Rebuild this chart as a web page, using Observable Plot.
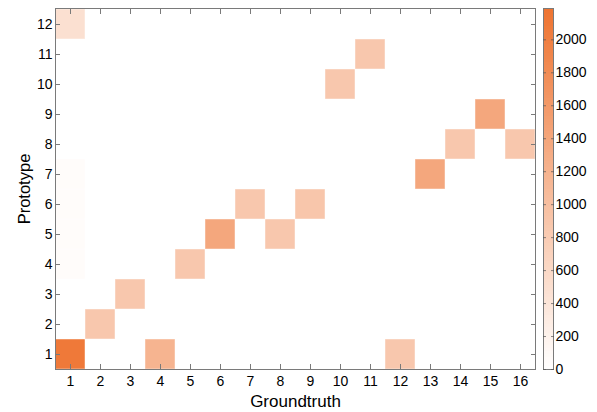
<!DOCTYPE html>
<html>
<head>
<meta charset="utf-8">
<script src="https://cdn.jsdelivr.net/npm/d3@7"></script>
<script src="https://cdn.jsdelivr.net/npm/@observablehq/plot@0.6"></script>
<style>
  body { margin: 0; background: #fff; }
  #wrap { position: relative; width: 597px; height: 412px; }
  #wrap svg { position: absolute; top: 0; overflow: visible; }
  svg [aria-label="x-axis label"] text { font-size: 17px; }
  svg [aria-label="y-axis label"] text { font-size: 16.5px; }
</style>
</head>
<body>
<div id="wrap"></div>
<script>
// Tick labels / categories
const groundtruthTicks = [1,2,3,4,5,6,7,8,9,10,11,12,13,14,15,16];
const prototypeTicks = [1,2,3,4,5,6,7,8,9,10,11,12];
const colorbarTicks = [0,200,400,600,800,1000,1200,1400,1600,1800,2000];

// Non-zero cells
const groundtruth = [1, 4, 12, 2, 3, 1, 5, 1, 6, 8, 1, 7, 9, 1, 13, 14, 16, 15, 10, 11, 1];
const prototype   = [1, 1, 1,  2, 3, 4, 4, 5, 5, 5, 6, 6, 6, 7, 7,  8,  8,  9,  10, 11, 12];
const counts      = [2100, 1170, 870, 870, 870, 50, 870, 50, 1380, 870, 50, 870, 890, 50, 1380, 870, 870, 1380, 870, 870, 490];

const colorMax = 2190;
const colorRange = ["#ffffff", "#ee7330"];

const cells = groundtruth.map((g, i) => ({g, p: prototype[i], v: counts[i]}));
const font = "Liberation Sans, Arial, Helvetica, sans-serif";

const main = Plot.plot({
  width: 540, height: 412,
  marginLeft: 55, marginRight: 5, marginTop: 8, marginBottom: 43,
  style: {fontFamily: font, fontSize: "14px", color: "#000", background: "transparent"},
  x: {type: "band", domain: groundtruthTicks, padding: 0},
  y: {type: "band", domain: prototypeTicks, padding: 0, reverse: true},
  color: {type: "linear", domain: [0, colorMax], range: colorRange},
  marks: [
    Plot.cell(cells, {x: "g", y: "p", fill: "v", stroke: "#fff", strokeOpacity: 0.45, strokeWidth: 1}),
    Plot.frame({stroke: "#7a7a7a"}),
    Plot.axisX({anchor: "bottom", tickSize: -5, tickPadding: 12, stroke: "#7a7a7a", label: "Groundtruth", labelAnchor: "center", labelOffset: 37}),
    Plot.axisX({anchor: "top", tickSize: -5, stroke: "#7a7a7a", tickFormat: () => "", label: null}),
    Plot.axisY({anchor: "left", tickSize: -5, tickPadding: 8, stroke: "#7a7a7a", label: "Prototype", labelAnchor: "center", labelOffset: 37}),
    Plot.axisY({anchor: "right", tickSize: -5, stroke: "#7a7a7a", tickFormat: () => "", label: null})
  ]
});
main.style.left = "0px";
document.getElementById("wrap").appendChild(main);

// Colorbar
const n = 120;
const step = colorMax / n;
const strip = d3.range(0, n).map(i => ({y1: i * step, y2: Math.min(colorMax, (i + 1.6) * step), v: (i + 0.5) * step}));
const bar = Plot.plot({
  width: 67, height: 412,
  marginLeft: 13, marginRight: 44, marginTop: 8, marginBottom: 43,
  style: {fontFamily: font, fontSize: "14px", color: "#000", background: "transparent"},
  x: {domain: [0, 1], axis: null},
  y: {domain: [0, colorMax]},
  color: {type: "linear", domain: [0, colorMax], range: colorRange},
  marks: [
    Plot.rect(strip, {x1: 0, x2: 1, y1: "y1", y2: "y2", fill: "v", shapeRendering: "crispEdges"}),
    Plot.frame({stroke: "#7a7a7a"}),
    Plot.axisY({anchor: "right", ticks: colorbarTicks, tickFormat: "d", tickSize: -3, tickPadding: 5, stroke: "#555", strokeOpacity: 0.7, label: null}),
    Plot.axisY({anchor: "left", ticks: colorbarTicks, tickSize: -3, tickFormat: () => "", stroke: "#555", strokeOpacity: 0.7, label: null})
  ]
});
bar.style.left = "530px";
document.getElementById("wrap").appendChild(bar);
</script>
</body>
</html>
